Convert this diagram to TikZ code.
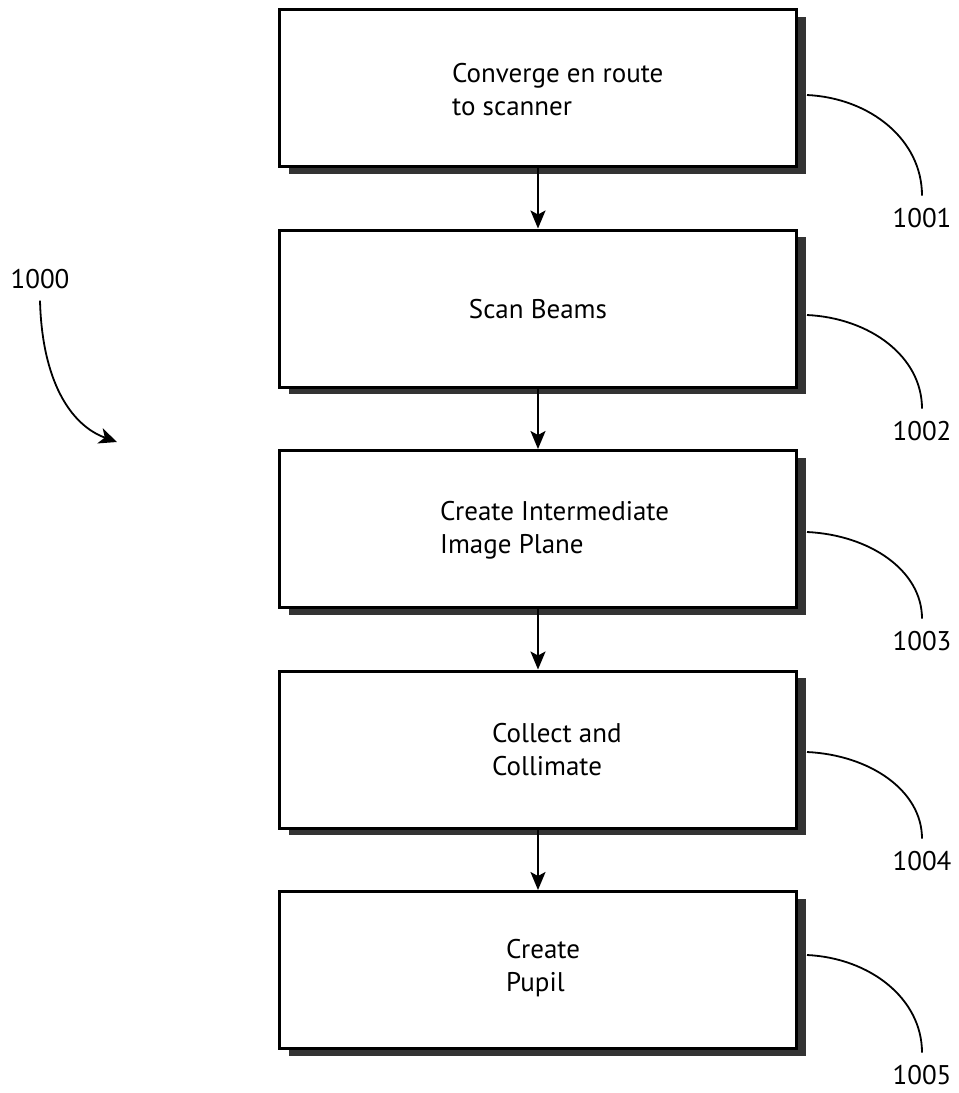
\documentclass[tikz,border=0pt]{standalone}
\usepackage{fontspec}
\setmainfont{PT Sans}
\usetikzlibrary{arrows.meta,shadows}
\begin{document}
\begin{tikzpicture}[x=1pt,y=-1pt,
  box/.style={draw, line width=3pt, fill=white, minimum width=517pt, minimum height=157pt, inner sep=0pt,
    drop shadow={shadow xshift=9pt, shadow yshift=-7pt, fill=black!80, opacity=1}},
  steptext/.style={font=\fontsize{27}{33}\selectfont, align=left, inner sep=0pt},
  numlabel/.style={font=\fontsize{27}{33}\selectfont, inner xsep=0pt, inner ysep=12pt},
  flow/.style={line width=2pt, -{Stealth[length=18pt,width=15pt,inset=4pt]}},
  callout/.style={line width=1.8pt}]
\useasboundingbox (0,0) rectangle (959,1093);

% boxes
\node[box] (b1) at (538,88) {};
\node[box] (b2) at (538,308.5) {};
\node[box] (b3) at (538,529) {};
\node[box] (b4) at (538,749.5) {};
\node[box] (b5) at (538,970) {};

% texts
\node[steptext, anchor=west] (t1) at (452,90) {Converge en route\\to scanner};
\node[steptext] (t2) at (538,309) {Scan Beams};
\node[steptext, anchor=west] (t3) at (440,530) {Create Intermediate\\Image Plane};
\node[steptext, anchor=west] (t4) at (492,750) {Collect and\\Collimate};
\node[steptext, anchor=west] (t5) at (506,968) {Create\\Pupil};

% flow arrows
\draw[flow] (b1.south) -- (b2.north);
\draw[flow] (b2.south) -- (b3.north);
\draw[flow] (b3.south) -- (b4.north);
\draw[flow] (b4.south) -- (b5.north);

% reference numerals
\node[numlabel, anchor=base] (n1) at (922,227) {1001};
\node[numlabel, anchor=base] (n2) at (922,440) {1002};
\node[numlabel, anchor=base] (n3) at (922,650) {1003};
\node[numlabel, anchor=base] (n4) at (922,870) {1004};
\node[numlabel, anchor=base] (n5) at (922,1084) {1005};

\draw[callout] ([xshift=9pt,yshift=-7pt]b1.east) .. controls +(63,3) and +(0,-56) .. (n1.north);
\draw[callout] ([xshift=9pt,yshift=-6.5pt]b2.east) .. controls +(63,3) and +(0,-52) .. (n2.north);
\draw[callout] ([xshift=9pt,yshift=-3pt]b3.east) .. controls +(63,3) and +(0,-48) .. (n3.north);
\draw[callout] ([xshift=9pt,yshift=-2.5pt]b4.east) .. controls +(63,3) and +(0,-48) .. (n4.north);
\draw[callout] ([xshift=9pt,yshift=15pt]b5.east) .. controls +(63,3) and +(0,-54) .. (n5.north);

% figure numeral
\node[numlabel, anchor=base] (n0) at (40,288) {1000};
\coordinate (tip0) at (117,442);
\draw[line width=1.8pt, -{Stealth[length=18pt,width=16pt,inset=5pt]}] (n0.south) .. controls (42,380) and (70,425) .. (tip0);
\end{tikzpicture}
\end{document}
